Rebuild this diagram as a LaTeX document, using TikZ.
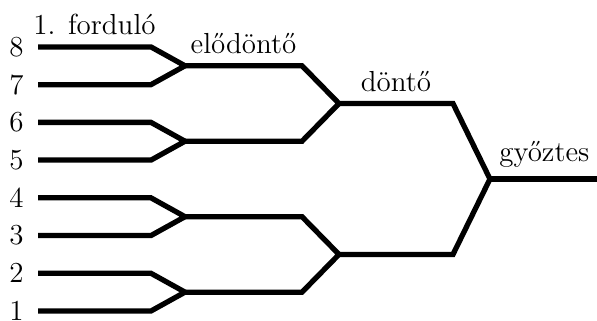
\documentclass[tikz,border=0pt]{standalone}
\usepackage{fontspec}
\usepackage{tikz}
\usetikzlibrary{positioning,calc}

\begin{document}
\begin{tikzpicture}[
    bracket/.style={line width=2pt},
    seed/.style={font=\fontsize{11}{13}\selectfont, inner sep=2pt},
    roundlabel/.style={above=1pt, font=\fontsize{11}{13}\selectfont}
  ]
    \useasboundingbox (0,0) rectangle (7.96,4.267);
    % first round
    \foreach \i in {1,...,8} {
      \coordinate (in\i) at (0.507,{0.12+0.503*(\i-1)});
      \coordinate (out\i) at (2.013,{0.12+0.503*(\i-1)});
      \node[seed, left=3.3pt of in\i] (p\i) {\i};
    }
    % semi-finals
    \foreach \a/\b/\s in {1/2/a,3/4/b,5/6/c,7/8/d} {
      \coordinate (semi\s) at ($(out\a)!0.5!(out\b)+(0.454,0)$);
      \coordinate (semiend\s) at ($(semi\s)+(1.56,0)$);
      \draw[bracket] (in\a) -- (out\a) -- (semi\s) -- (out\b) -- (in\b);
    }
    % finals
    \foreach \a/\b/\f in {a/b/x,c/d/y} {
      \coordinate (fin\f) at ($(semiend\a)!0.5!(semiend\b)+(0.493,0)$);
      \coordinate (finend\f) at ($(fin\f)+(1.52,0)$);
      \draw[bracket] (semi\a) -- (semiend\a) -- (fin\f) -- (semiend\b) -- (semi\b);
    }
    \coordinate (champ) at ($(finendx)!0.5!(finendy)+(0.493,0)$);
    \coordinate (champend) at ($(champ)+(1.45,0)$);
    \draw[bracket] (finx) -- (finendx) -- (champ) -- (finendy) -- (finy);
    \draw[bracket] (champ) -- (champend);
    % round titles
    \path (in8) -- node[roundlabel] (r1) {1. forduló} (out8);
    \path (semid) -- node[roundlabel] (r2) {elődöntő} (semiendd);
    \path (finy) -- node[roundlabel] (r3) {döntő} (finendy);
    \path (champ) -- node[roundlabel] (r4) {győztes} (champend);
\end{tikzpicture}
\end{document}
